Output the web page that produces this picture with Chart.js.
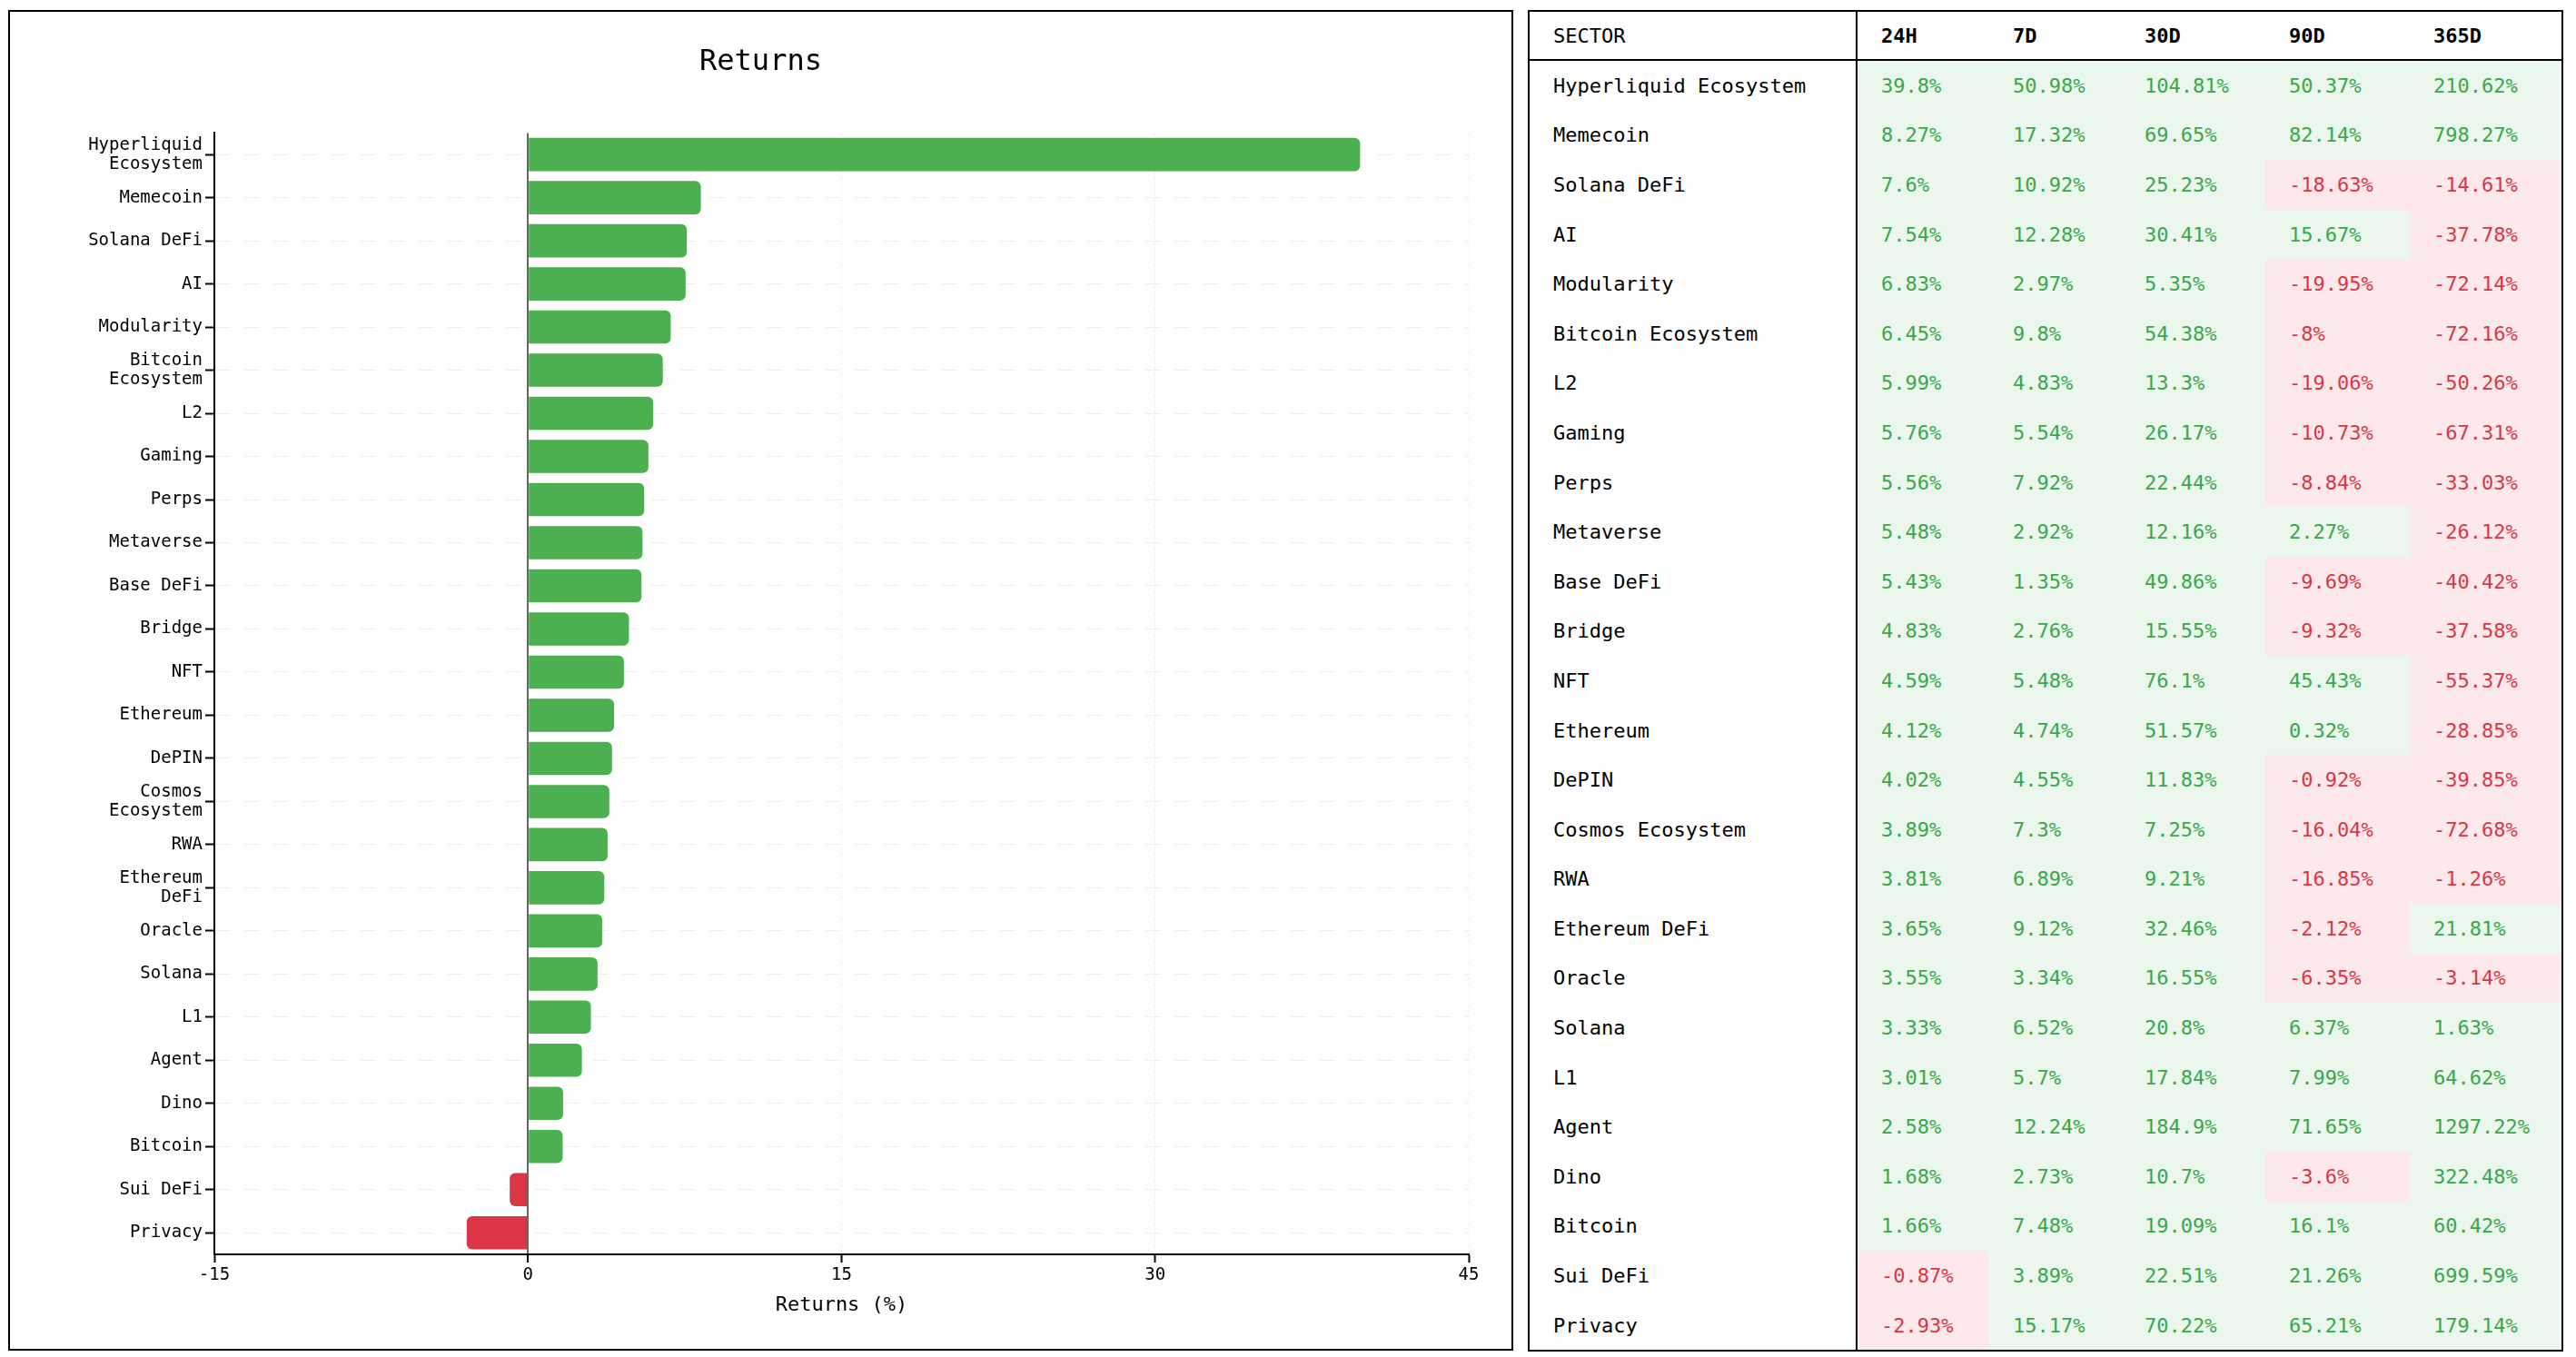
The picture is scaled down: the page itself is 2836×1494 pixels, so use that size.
<!DOCTYPE html>
<html>
<head>
<meta charset="utf-8">
<script src="https://cdn.jsdelivr.net/npm/chart.js@4.4.1/dist/chart.umd.min.js"></script>
<style>
  html, body { margin: 0; padding: 0; background: #fff; }
  body { width: 2836px; height: 1494px; position: relative; overflow: hidden; font-family: "DejaVu Sans Mono", monospace; }
  #chartBox { position: absolute; left: 9px; top: 11px; width: 1653px; height: 1472px; border: 2px solid #000; }
  #chartBox canvas { position: absolute; left: 0; top: 0; }
  #tableBox { position: absolute; left: 1682px; top: 11px; }
  table { border-collapse: collapse; border: 2px solid #000; table-layout: fixed; font-size: 22px; }
  th, td { padding: 0 0 0 26px; text-align: left; white-space: nowrap; }
  th { height: 52px; border-bottom: 2px solid #000; color: #000; }
  th.sector { font-weight: normal; }
  th.num { font-weight: bold; }
  td { height: 54.6px; }
  td.sector, th.sector { border-right: 2px solid #000; padding-left: 26px; color: #000; }
  td.pos { background: #ebf6ec; color: #38a84b; }
  td.neg { background: #fde9eb; color: #dc3545; }
</style>
</head>
<body>
<div id="chartBox"><canvas id="returnsChart" width="1653" height="1472"></canvas></div>
<div id="tableBox"><table id="returnsTable"></table></div>
<script>
var sectors = ["Hyperliquid Ecosystem", "Memecoin", "Solana DeFi", "AI", "Modularity", "Bitcoin Ecosystem", "L2", "Gaming", "Perps", "Metaverse", "Base DeFi", "Bridge", "NFT", "Ethereum", "DePIN", "Cosmos Ecosystem", "RWA", "Ethereum DeFi", "Oracle", "Solana", "L1", "Agent", "Dino", "Bitcoin", "Sui DeFi", "Privacy"];
var ret24h = [39.8, 8.27, 7.6, 7.54, 6.83, 6.45, 5.99, 5.76, 5.56, 5.48, 5.43, 4.83, 4.59, 4.12, 4.02, 3.89, 3.81, 3.65, 3.55, 3.33, 3.01, 2.58, 1.68, 1.66, -0.87, -2.93];
var ret7d = [50.98, 17.32, 10.92, 12.28, 2.97, 9.8, 4.83, 5.54, 7.92, 2.92, 1.35, 2.76, 5.48, 4.74, 4.55, 7.3, 6.89, 9.12, 3.34, 6.52, 5.7, 12.24, 2.73, 7.48, 3.89, 15.17];
var ret30d = [104.81, 69.65, 25.23, 30.41, 5.35, 54.38, 13.3, 26.17, 22.44, 12.16, 49.86, 15.55, 76.1, 51.57, 11.83, 7.25, 9.21, 32.46, 16.55, 20.8, 17.84, 184.9, 10.7, 19.09, 22.51, 70.22];
var ret90d = [50.37, 82.14, -18.63, 15.67, -19.95, -8, -19.06, -10.73, -8.84, 2.27, -9.69, -9.32, 45.43, 0.32, -0.92, -16.04, -16.85, -2.12, -6.35, 6.37, 7.99, 71.65, -3.6, 16.1, 21.26, 65.21];
var ret365d = [210.62, 798.27, -14.61, -37.78, -72.14, -72.16, -50.26, -67.31, -33.03, -26.12, -40.42, -37.58, -55.37, -28.85, -39.85, -72.68, -1.26, 21.81, -3.14, 1.63, 64.62, 1297.22, 322.48, 60.42, 699.59, 179.14];
var xTicks = [-15, 0, 15, 30, 45];

var periods = ["24H", "7D", "30D", "90D", "365D"];
var periodData = [ret24h, ret7d, ret30d, ret90d, ret365d];
var colWidths = [361, 146, 145, 159, 159, 168];

// long names go on two lines on the y axis
function wrapLabel(name) {
    if (name.length <= 12) return name;
    var i = name.lastIndexOf(' ');
    return [name.slice(0, i), name.slice(i + 1)];
}

var GREEN = '#4caf50';
var RED = '#dc3545';
var FONT = '"DejaVu Sans Mono", monospace';

new Chart(document.getElementById('returnsChart'), {
    type: 'bar',
    data: {
        labels: sectors.map(wrapLabel),
        datasets: [{
            label: 'Returns',
            data: ret24h,
            xAxisID: 'x',
            yAxisID: 'y',
            backgroundColor: ret24h.map(function (v) { return v >= 0 ? GREEN : RED; }),
            borderRadius: 6,
            borderSkipped: 'start',
            categoryPercentage: 0.77,
            barPercentage: 1
        }]
    },
    options: {
        indexAxis: 'y',
        responsive: false,
        animation: false,
        layout: { padding: 0 },
        plugins: {
            legend: { display: false },
            tooltip: { enabled: false },
            title: {
                display: true,
                text: 'Returns',
                color: '#000',
                font: { family: FONT, size: 32, weight: 'normal' },
                padding: { top: 36, bottom: 59 }
            }
        },
        scales: {
            x: {
                type: 'linear',
                min: -15,
                max: 45,
                afterBuildTicks: function (scale) {
                    scale.ticks = xTicks.map(function (v) { return { value: v }; });
                },
                afterFit: function (scale) { scale.height = 104; },
                ticks: {
                    color: '#000',
                    padding: 3,
                    font: { family: FONT, size: 19 }
                },
                grid: {
                    color: function (ctx) {
                        if (!ctx.tick) return '#eee';
                        if (ctx.tick.value === -15) return 'rgba(0,0,0,0)';
                        if (ctx.tick.value === 0) return '#666';
                        return '#efefef';
                    },
                    lineWidth: function (ctx) { return ctx.tick && ctx.tick.value === 0 ? 2 : 1; },
                    tickColor: '#000',
                    tickLength: 9,
                    tickWidth: 2,
                    tickBorderDash: []
                },
                border: {
                    color: '#000',
                    width: 2,
                    dash: function (ctx) { return ctx.tick && ctx.tick.value === 0 ? [] : [3, 3]; }
                },
                title: {
                    display: true,
                    text: 'Returns (%)',
                    color: '#000',
                    font: { family: FONT, size: 22 },
                    padding: { top: 0, bottom: 35 }
                }
            },
            y: {
                type: 'category',
                afterFit: function (scale) { scale.width = 225; },
                ticks: {
                    color: '#000',
                    padding: 3,
                    font: { family: FONT, size: 19, lineHeight: 1.1 }
                },
                grid: {
                    offset: false,
                    color: '#efefef',
                    tickColor: '#000',
                    tickLength: 10,
                    tickWidth: 2,
                    tickBorderDash: []
                },
                border: {
                    color: '#000',
                    width: 2,
                    dash: [16, 16],
                    dashOffset: 0
                }
            },
            // empty right-hand space so the title stays centred on the canvas
            pad: {
                type: 'linear',
                position: 'right',
                display: true,
                afterFit: function (scale) { scale.width = 47; },
                ticks: { display: false },
                grid: { display: false, drawTicks: false },
                border: { display: false }
            }
        }
    }
});

// table of returns by period
var table = document.getElementById('returnsTable');
var colgroup = document.createElement('colgroup');
colWidths.forEach(function (w) {
    var col = document.createElement('col');
    col.style.width = w + 'px';
    colgroup.appendChild(col);
});
table.appendChild(colgroup);

var head = document.createElement('tr');
var th0 = document.createElement('th');
th0.className = 'sector';
th0.textContent = 'SECTOR';
head.appendChild(th0);
periods.forEach(function (p) {
    var th = document.createElement('th');
    th.className = 'num';
    th.textContent = p;
    head.appendChild(th);
});
table.appendChild(head);

for (var i = 0; i < sectors.length; i++) {
    var tr = document.createElement('tr');
    var td0 = document.createElement('td');
    td0.className = 'sector';
    td0.textContent = sectors[i];
    tr.appendChild(td0);
    for (var j = 0; j < periodData.length; j++) {
        var v = periodData[j][i];
        var td = document.createElement('td');
        td.className = v >= 0 ? 'pos' : 'neg';
        td.textContent = v + '%';
        tr.appendChild(td);
    }
    table.appendChild(tr);
}
</script>
</body>
</html>
